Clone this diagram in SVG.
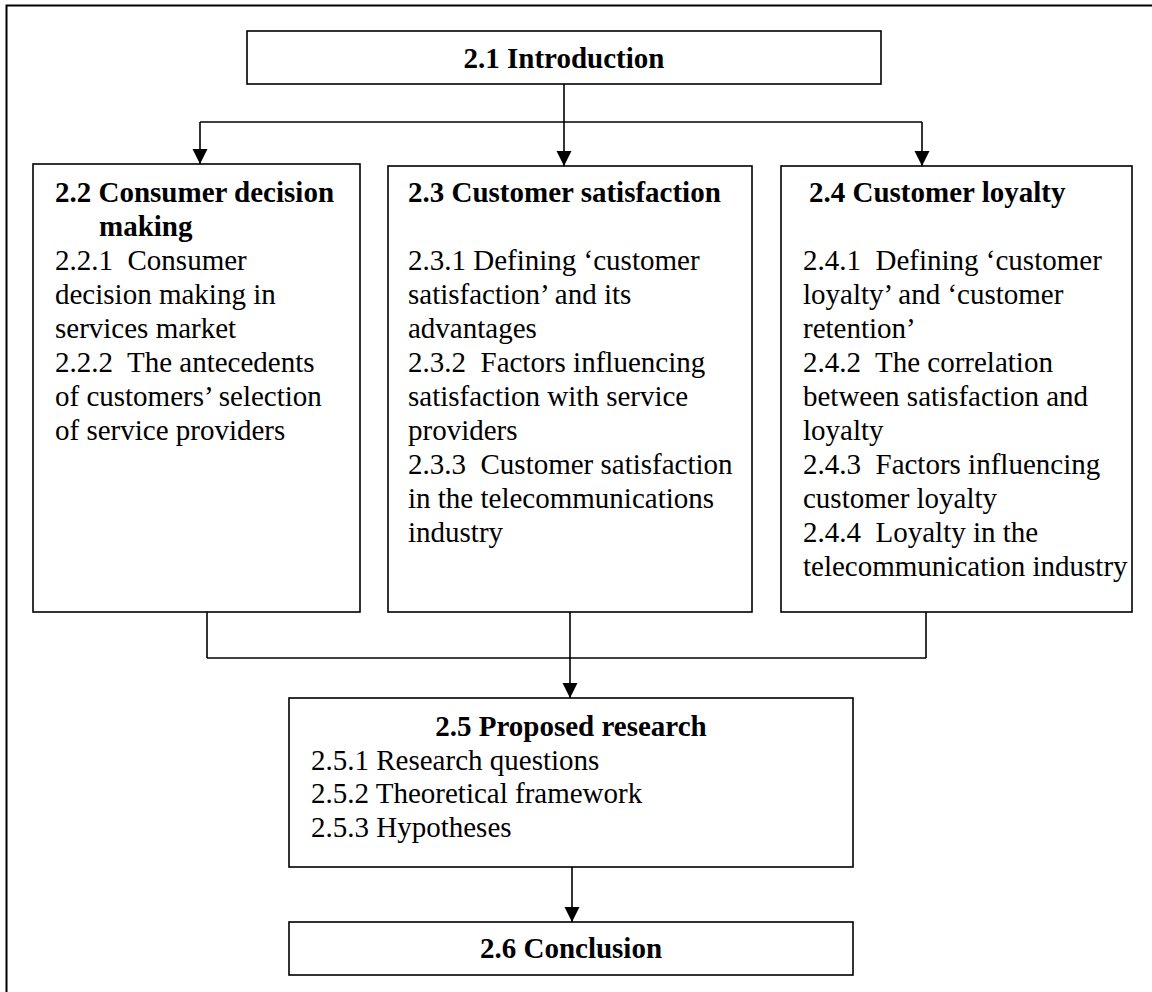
<svg xmlns="http://www.w3.org/2000/svg" width="1152" height="992" viewBox="0 0 1152 992">
<style>
.box{fill:#fff;stroke:#000;stroke-width:1.6}
.frame{fill:none;stroke:#000;stroke-width:2}
.ln{fill:none;stroke:#000;stroke-width:1.6}
text{font-family:"Liberation Serif","Times New Roman",serif;font-size:29px;fill:#000;white-space:pre}
.b{font-weight:bold}
.c{text-anchor:middle}
</style>
<defs>
<marker id="ah" markerUnits="userSpaceOnUse" markerWidth="16" markerHeight="16" refX="15" refY="7.5" orient="auto">
<path d="M0,0 L15,7.5 L0,15 Z" fill="#000"/>
</marker>
</defs>
<rect class="frame" x="6.5" y="5.5" width="1160" height="1000"/>
<g id="connectors">
<line class="ln" x1="564" y1="84" x2="564" y2="166" marker-end="url(#ah)"/>
<line class="ln" x1="200" y1="122" x2="922" y2="122"/>
<line class="ln" x1="200" y1="122" x2="200" y2="164" marker-end="url(#ah)"/>
<line class="ln" x1="922" y1="122" x2="922" y2="166" marker-end="url(#ah)"/>
<line class="ln" x1="207" y1="612" x2="207" y2="658"/>
<line class="ln" x1="926" y1="612" x2="926" y2="658"/>
<line class="ln" x1="207" y1="658" x2="926" y2="658"/>
<line class="ln" x1="570" y1="612" x2="570" y2="698" marker-end="url(#ah)"/>
<line class="ln" x1="572" y1="867" x2="572" y2="922" marker-end="url(#ah)"/>
</g>
<g id="n21">
<rect class="box" x="247" y="31" width="634" height="53"/>
<text class="b c" x="564" y="68">2.1 Introduction</text>
</g>
<g id="n22">
<rect class="box" x="33" y="164" width="327" height="448"/>
<text class="b" x="55" y="202">2.2 Consumer decision</text>
<text class="b" x="99" y="236">making</text>
<text x="55" y="270">2.2.1  Consumer</text>
<text x="55" y="304">decision making in</text>
<text x="55" y="338">services market</text>
<text x="55" y="372">2.2.2  The antecedents</text>
<text x="55" y="406">of customers’ selection</text>
<text x="55" y="440">of service providers</text>
</g>
<g id="n23">
<rect class="box" x="388" y="166" width="364" height="446"/>
<text class="b" x="408" y="202">2.3 Customer satisfaction</text>
<text x="408" y="270">2.3.1 Defining ‘customer</text>
<text x="408" y="304">satisfaction’ and its</text>
<text x="408" y="338">advantages</text>
<text x="408" y="372">2.3.2  Factors influencing</text>
<text x="408" y="406">satisfaction with service</text>
<text x="408" y="440">providers</text>
<text x="408" y="474">2.3.3  Customer satisfaction</text>
<text x="408" y="508">in the telecommunications</text>
<text x="408" y="542">industry</text>
</g>
<g id="n24">
<rect class="box" x="781" y="166" width="351" height="446"/>
<text class="b" x="809" y="202">2.4 Customer loyalty</text>
<text x="803" y="270">2.4.1  Defining ‘customer</text>
<text x="803" y="304">loyalty’ and ‘customer</text>
<text x="803" y="338">retention’</text>
<text x="803" y="372">2.4.2  The correlation</text>
<text x="803" y="406">between satisfaction and</text>
<text x="803" y="440">loyalty</text>
<text x="803" y="474">2.4.3  Factors influencing</text>
<text x="803" y="508">customer loyalty</text>
<text x="803" y="542">2.4.4  Loyalty in the</text>
<text x="803" y="576">telecommunication industry</text>
</g>
<g id="n25">
<rect class="box" x="289" y="698" width="564" height="169"/>
<text class="b c" x="571" y="736">2.5 Proposed research</text>
<text x="311" y="770">2.5.1 Research questions</text>
<text x="311" y="803">2.5.2 Theoretical framework</text>
<text x="311" y="837">2.5.3 Hypotheses</text>
</g>
<g id="n26">
<rect class="box" x="289" y="922" width="564" height="53"/>
<text class="b c" x="571" y="958">2.6 Conclusion</text>
</g>
</svg>
